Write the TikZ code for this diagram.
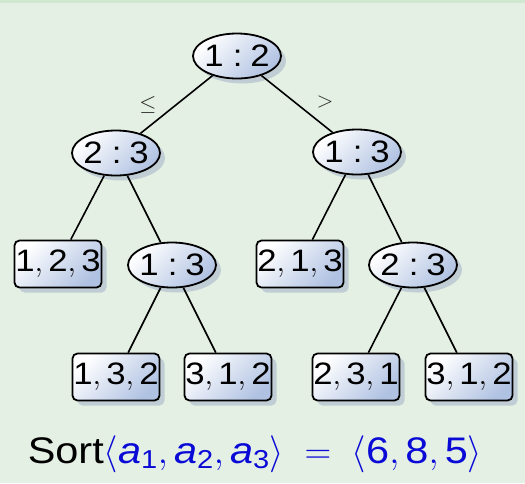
\RequirePackage{fix-cm}
\documentclass[tikz,border=0pt]{standalone}
\usepackage{fontspec}
\setmainfont[FakeStretch=1.12]{Liberation Sans}
\usetikzlibrary{shapes.geometric,shadows}
\definecolor{bgc}{RGB}{229,240,228}
\definecolor{bandc}{RGB}{208,231,208}
\definecolor{shadc}{RGB}{190,202,212}
\definecolor{fillb}{RGB}{176,194,226}
\definecolor{capblue}{RGB}{10,10,215}
\newcommand\trip[3]{#1$,\,$#2$,\,$#3}
\newcommand\cmp[2]{#1\hspace{0.3em}:\hspace{0.25em}#2}
\tikzset{
  basebox/.style={draw=black, line width=1.8pt, inner sep=0pt,
    top color=white, bottom color=fillb, shading angle=45,
    drop shadow={shadow xshift=5pt, shadow yshift=-5pt, fill=shadc, opacity=0.9},
    font=\fontsize{31}{36}\selectfont},
  cmpnode/.style={basebox, ellipse, inner xsep=-3pt, inner ysep=-6pt,
    minimum width=88pt, minimum height=45pt},
  leafnode/.style={basebox, rectangle, rounded corners=5pt, minimum width=87pt, minimum height=47pt},
  edge/.style={draw=black, line width=1.6pt},
  elabel/.style={font=\fontsize{22}{24}\selectfont, text=black!85}
}
\begin{document}
\begin{tikzpicture}[x=1pt,y=-1pt]
\fill[bgc] (0,0) rectangle (525,483);
\fill[bandc] (0,0) rectangle (525,3);
\useasboundingbox (0,0) rectangle (525,483);
\node[cmpnode] (root) at (237,56) {\cmp{1}{2}};
\node[cmpnode] (l) at (116,153) {\cmp{2}{3}};
\node[cmpnode] (r) at (357,152) {\cmp{1}{3}};
\node[leafnode] (ll) at (58,264) {\trip{1}{2}{3}};
\node[cmpnode] (lr) at (172,265) {\cmp{1}{3}};
\node[leafnode] (rl) at (300,264) {\trip{2}{1}{3}};
\node[cmpnode] (rr) at (413,265) {\cmp{2}{3}};
\node[leafnode] (lrl) at (116,377) {\trip{1}{3}{2}};
\node[leafnode] (lrr) at (228,377) {\trip{3}{1}{2}};
\node[leafnode] (rrl) at (356,377) {\trip{2}{3}{1}};
\node[leafnode] (rrr) at (469,377) {\trip{3}{1}{2}};
\draw[edge] (root) -- (l);
\draw[edge] (root) -- (r);
\draw[edge] (l) -- (ll);
\draw[edge] (l) -- (lr);
\draw[edge] (r) -- (rl);
\draw[edge] (r) -- (rr);
\draw[edge] (lr) -- (lrl);
\draw[edge] (lr) -- (lrr);
\draw[edge] (rr) -- (rrl);
\draw[edge] (rr) -- (rrr);
\node[elabel] (le) at (148,105) {$\leq$};
\node[elabel] (gt) at (325,102) {$>$};
\node[font=\fontsize{37}{40}\selectfont, inner sep=0pt] (cap) at (255,454)
  {Sort{\color{capblue}$\langle$\textit{a}\textsubscript{1}$,\,$\textit{a}\textsubscript{2}$,\,$\textit{a}\textsubscript{3}$\rangle\;=\;\langle$6$,\,$8$,\,$5$\rangle$}};
\end{tikzpicture}
\end{document}
